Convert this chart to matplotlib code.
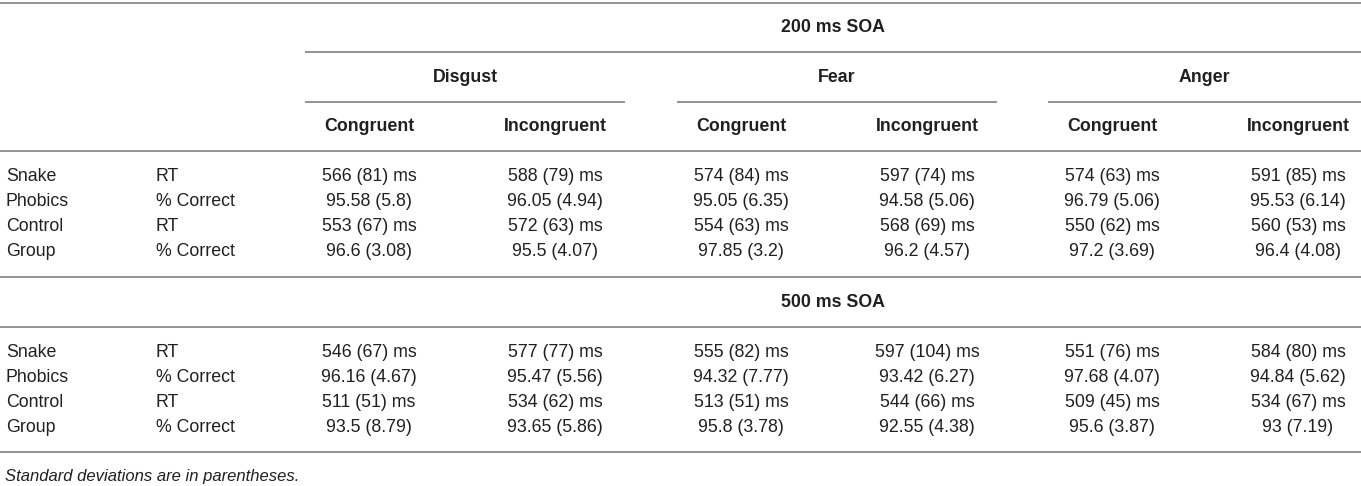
import matplotlib
matplotlib.use("Agg")
import matplotlib.pyplot as plt

# table content
soa_titles = ["200 ms SOA", "500 ms SOA"]
emotions = ["Disgust", "Fear", "Anger"]
conditions = ["Congruent", "Incongruent"]
group_labels = ["Snake", "Phobics", "Control", "Group"]
measure_labels = ["RT", "% Correct", "RT", "% Correct"]

# means / SDs, columns: Disgust C, Disgust I, Fear C, Fear I, Anger C, Anger I
soa200_snake_rt = [566, 588, 574, 597, 574, 591]
soa200_snake_rt_sd = [81, 79, 84, 74, 63, 85]
soa200_snake_pc = [95.58, 96.05, 95.05, 94.58, 96.79, 95.53]
soa200_snake_pc_sd = [5.8, 4.94, 6.35, 5.06, 5.06, 6.14]
soa200_ctrl_rt = [553, 572, 554, 568, 550, 560]
soa200_ctrl_rt_sd = [67, 63, 63, 69, 62, 53]
soa200_ctrl_pc = [96.6, 95.5, 97.85, 96.2, 97.2, 96.4]
soa200_ctrl_pc_sd = [3.08, 4.07, 3.2, 4.57, 3.69, 4.08]

soa500_snake_rt = [546, 577, 555, 597, 551, 584]
soa500_snake_rt_sd = [67, 77, 82, 104, 76, 80]
soa500_snake_pc = [96.16, 95.47, 94.32, 93.42, 97.68, 94.84]
soa500_snake_pc_sd = [4.67, 5.56, 7.77, 6.27, 4.07, 5.62]
soa500_ctrl_rt = [511, 534, 513, 544, 509, 534]
soa500_ctrl_rt_sd = [51, 62, 51, 66, 45, 67]
soa500_ctrl_pc = [93.5, 93.65, 95.8, 92.55, 95.6, 93]
soa500_ctrl_pc_sd = [8.79, 5.86, 3.78, 4.38, 3.87, 7.19]

footnote = "Standard deviations are in parentheses."


def cell_rt(m, s):
    return "%g (%g) ms" % (m, s)


def cell_pc(m, s):
    return "%g (%g)" % (m, s)


def block_rows(snake_rt, snake_rt_sd, snake_pc, snake_pc_sd,
               ctrl_rt, ctrl_rt_sd, ctrl_pc, ctrl_pc_sd):
    return [
        [cell_rt(m, s) for m, s in zip(snake_rt, snake_rt_sd)],
        [cell_pc(m, s) for m, s in zip(snake_pc, snake_pc_sd)],
        [cell_rt(m, s) for m, s in zip(ctrl_rt, ctrl_rt_sd)],
        [cell_pc(m, s) for m, s in zip(ctrl_pc, ctrl_pc_sd)],
    ]


blocks = [
    block_rows(soa200_snake_rt, soa200_snake_rt_sd, soa200_snake_pc, soa200_snake_pc_sd,
               soa200_ctrl_rt, soa200_ctrl_rt_sd, soa200_ctrl_pc, soa200_ctrl_pc_sd),
    block_rows(soa500_snake_rt, soa500_snake_rt_sd, soa500_snake_pc, soa500_snake_pc_sd,
               soa500_ctrl_rt, soa500_ctrl_rt_sd, soa500_ctrl_pc, soa500_ctrl_pc_sd),
]

# layout (pixel space)
W, H = 1361, 486
plt.rcParams['font.family'] = ['Liberation Sans', 'DejaVu Sans']
TXT = "#231f20"
LINE = "#8a8a8a"
FS = 12.8
LW = 1.3

fig = plt.figure(figsize=(W / 100, H / 100), dpi=100)
ax = fig.add_axes([0, 0, 1, 1])
ax.set_xlim(0, W)
ax.set_ylim(H, 0)
ax.axis("off")

group_starts = [305, 677, 1048]
group_width = 320
cond_offsets = [64, 250]
col_centers = [g + o for g in group_starts for o in cond_offsets]
group_centers = [g + group_width / 2 for g in group_starts]
group_centers[-1] = 1204  # last group is cut at the right edge
label_x = [6, 156]


def hline(y, x0=0, x1=W):
    ax.plot([x0, x1], [y, y], color=LINE, lw=LW, solid_capstyle="butt")


def txt(x, y, s, ha="center", **kw):
    ax.text(x, y, s, ha=ha, va="center", color=TXT, fontsize=FS, **kw)


# header
hline(3)
txt(833, 27, soa_titles[0], weight="bold")
hline(52, 305)
for gc, name in zip(group_centers, emotions):
    txt(gc, 77, name, weight="bold")
for g in group_starts:
    hline(102, g, min(g + group_width, W))
for i, c in enumerate(col_centers):
    txt(c, 126, conditions[i % 2], weight="bold")
hline(151)

row_pitch = 25
block_tops = [176, 352]
for b, top in enumerate(block_tops):
    if b == 1:
        hline(277)
        txt(833, 302, soa_titles[1], weight="bold")
        hline(327)
    for r in range(4):
        y = top + r * row_pitch
        txt(label_x[0], y, group_labels[r], ha="left")
        txt(label_x[1], y, measure_labels[r], ha="left")
        for c, cell in zip(col_centers, blocks[b][r]):
            txt(c, y, cell)
hline(452)

ax.text(5, 476, footnote, ha="left", va="center", color=TXT,
        fontsize=12, style="italic")

fig.savefig("out.png", dpi=100)
